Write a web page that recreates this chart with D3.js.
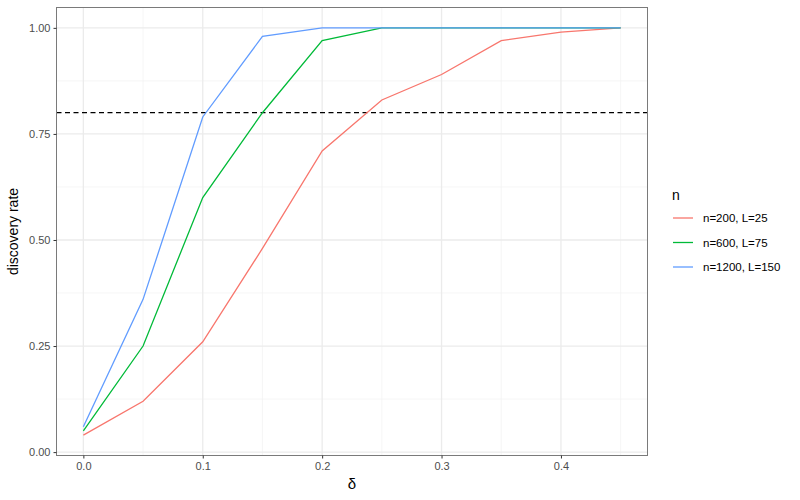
<!DOCTYPE html>
<html>
<head>
<meta charset="utf-8">
<script src="https://cdn.jsdelivr.net/npm/d3@7"></script>
<style>
  body { margin: 0; background: #fff; }
  svg { font-family: "Liberation Sans", Arial, sans-serif; }
</style>
</head>
<body>
<svg id="chart" width="800" height="500"></svg>
<script>
const deltas = [0, 0.05, 0.1, 0.15, 0.2, 0.25, 0.3, 0.35, 0.4, 0.45];
const seriesNames = ["n=200, L=25", "n=600, L=75", "n=1200, L=150"];
const rateN200 = [0.04, 0.12, 0.26, 0.48, 0.71, 0.83, 0.89, 0.97, 0.99, 1.00];
const rateN600 = [0.05, 0.25, 0.60, 0.80, 0.97, 1.00, 1.00, 1.00, 1.00, 1.00];
const rateN1200 = [0.06, 0.36, 0.79, 0.98, 1.00, 1.00, 1.00, 1.00, 1.00, 1.00];
const colors = ["#F8766D", "#00BA38", "#619CFF"];
const threshold = 0.8;
const xTicks = [0, 0.1, 0.2, 0.3, 0.4];
const xMinor = [0.05, 0.15, 0.25, 0.35, 0.45];
const yTicks = [0, 0.25, 0.5, 0.75, 1];
const yMinor = [0.125, 0.375, 0.625, 0.875];

const series = [rateN200, rateN600, rateN1200].map((vals, i) => ({
  name: seriesNames[i],
  color: colors[i],
  points: vals.map((v, j) => ({ x: deltas[j], y: v }))
}));

const svg = d3.select("#chart");
const panel = { left: 56.5, right: 647.5, top: 7.5, bottom: 455.5 };

// ggplot-style 5% expansion
const xPad = (0.45 - 0) * 0.05;
const yPad = (1.0 - 0.04) * 0.05;
const x = d3.scaleLinear().domain([0 - xPad, 0.45 + xPad]).range([panel.left, panel.right]);
const y = d3.scaleLinear().domain([0.04 - yPad, 1.0 + yPad]).range([panel.bottom, panel.top]);

// grid
const grid = svg.append("g");
grid.selectAll("line.ymin").data(yMinor).enter().append("line")
  .attr("x1", panel.left).attr("x2", panel.right)
  .attr("y1", d => y(d)).attr("y2", d => y(d))
  .attr("stroke", "#f2f2f2").attr("stroke-width", 0.7);
grid.selectAll("line.xmin").data(xMinor).enter().append("line")
  .attr("y1", panel.top).attr("y2", panel.bottom)
  .attr("x1", d => x(d)).attr("x2", d => x(d))
  .attr("stroke", "#f2f2f2").attr("stroke-width", 0.7);
grid.selectAll("line.ymaj").data(yTicks).enter().append("line")
  .attr("x1", panel.left).attr("x2", panel.right)
  .attr("y1", d => y(d)).attr("y2", d => y(d))
  .attr("stroke", "#ebebeb").attr("stroke-width", 1.3);
grid.selectAll("line.xmaj").data(xTicks).enter().append("line")
  .attr("y1", panel.top).attr("y2", panel.bottom)
  .attr("x1", d => x(d)).attr("x2", d => x(d))
  .attr("stroke", "#ebebeb").attr("stroke-width", 1.3);

// threshold line
svg.append("line")
  .attr("x1", panel.left).attr("x2", panel.right)
  .attr("y1", y(threshold)).attr("y2", y(threshold))
  .attr("stroke", "#000").attr("stroke-width", 1.2)
  .attr("stroke-dasharray", "5,3.5");

// lines
const line = d3.line().x(d => x(d.x)).y(d => y(d.y));
svg.selectAll("path.series").data(series).enter().append("path")
  .attr("class", "series")
  .attr("d", d => line(d.points))
  .attr("fill", "none")
  .attr("stroke", d => d.color)
  .attr("stroke-width", 1.3);

// panel border
svg.append("rect")
  .attr("x", panel.left).attr("y", panel.top)
  .attr("width", panel.right - panel.left).attr("height", panel.bottom - panel.top)
  .attr("fill", "none").attr("stroke", "#7a7a7a").attr("stroke-width", 1);

// axes
const xAxis = svg.append("g")
  .attr("transform", `translate(0,${panel.bottom})`)
  .call(d3.axisBottom(x).tickValues(xTicks).tickFormat(d3.format(".1f")).tickSize(3).tickPadding(4));
const yAxis = svg.append("g")
  .attr("transform", `translate(${panel.left},0)`)
  .call(d3.axisLeft(y).tickValues(yTicks).tickFormat(d3.format(".2f")).tickSize(3).tickPadding(3));
[xAxis, yAxis].forEach(g => {
  g.select("path.domain").remove();
  g.selectAll(".tick line").attr("stroke", "#333");
  g.selectAll(".tick text").attr("fill", "#4d4d4d").style("font-size", "11px")
    .style("font-family", "Liberation Sans, Arial, sans-serif");
});

// axis titles
svg.append("text")
  .attr("x", (panel.left + panel.right) / 2).attr("y", 489)
  .attr("text-anchor", "middle").style("font-size", "15px").attr("fill", "#000")
  .text("δ");
svg.append("text")
  .attr("transform", `translate(18,${(panel.top + panel.bottom) / 2}) rotate(-90)`)
  .attr("text-anchor", "middle").style("font-size", "14px").attr("fill", "#000")
  .text("discovery rate");

// legend
const legend = svg.append("g").attr("transform", "translate(667,0)");
legend.append("text").attr("x", 5).attr("y", 200)
  .style("font-size", "14px").attr("fill", "#000").text("n");
const items = legend.selectAll("g.item").data(series).enter().append("g")
  .attr("transform", (d, i) => `translate(0,${218 + i * 24.5})`);
items.append("line").attr("x1", 6).attr("x2", 26).attr("y1", 0).attr("y2", 0)
  .attr("stroke", d => d.color).attr("stroke-width", 1.3);
items.append("text").attr("x", 36).attr("y", 4)
  .style("font-size", "11.5px").attr("fill", "#000").text(d => d.name);
</script>
</body>
</html>
